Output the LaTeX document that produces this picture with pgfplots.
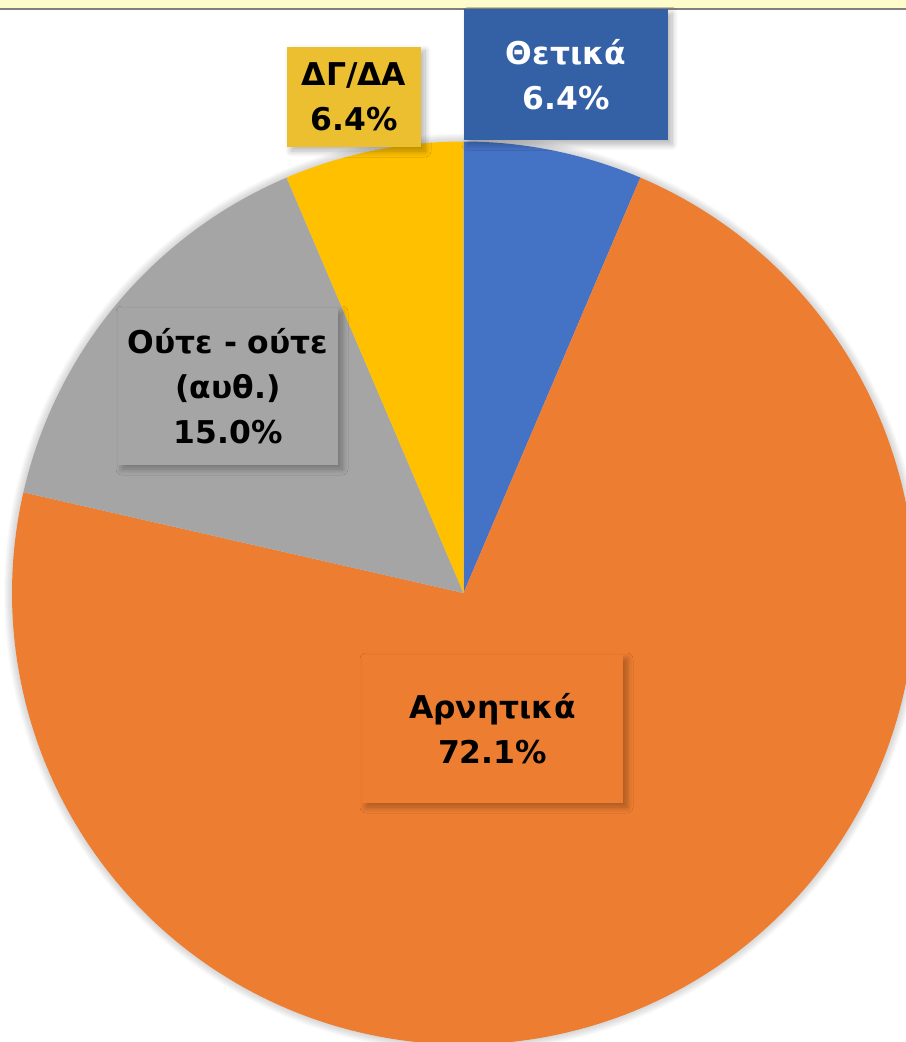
\documentclass[border=0pt]{standalone}
\usepackage{pgfplots}
\pgfplotsset{compat=1.18}
\usepackage{fontspec}
\setmainfont{DejaVu Sans}
\usetikzlibrary{shadows,shadows.blur}
\definecolor{cBlue}{HTML}{4472C4}
\definecolor{cOrange}{HTML}{ED7D31}
\definecolor{cGray}{HTML}{A5A5A5}
\definecolor{cYellow}{HTML}{FFC000}
\definecolor{bBlue}{HTML}{3461A5}
\definecolor{bYellow}{HTML}{ECBF31}
\definecolor{topStrip}{HTML}{FFFCCC}
\tikzset{lbl/.style={font=\fontsize{31.5}{45}\selectfont\bfseries, align=center, inner sep=0pt,
  blur shadow={shadow xshift=4bp, shadow yshift=-4bp, shadow blur steps=10, shadow blur radius=6bp, shadow opacity=30}}}
% values (percent)
\def\vPos{6.4}
\def\vNeg{72.1}
\def\vNeu{15.0}
\def\vDk{6.4}
\pgfmathsetmacro{\tot}{\vPos+\vNeg+\vNeu+\vDk}
\pgfmathsetmacro{\aA}{90}
\pgfmathsetmacro{\aB}{\aA-\vPos/\tot*360}
\pgfmathsetmacro{\aC}{\aB-\vNeg/\tot*360}
\pgfmathsetmacro{\aD}{\aC-\vNeu/\tot*360}
\pgfmathsetmacro{\aE}{\aD-\vDk/\tot*360}
\def\cx{463.5}
\def\cy{593}
\def\R{451.5}
\begin{document}
\begin{tikzpicture}
\begin{axis}[
  scale only axis, width=906bp, height=1042bp,
  xmin=0, xmax=906, ymin=0, ymax=1042, y dir=reverse,
  hide axis, clip=true,
]
% top strip
\addplot[fill=topStrip, draw=none] coordinates {(0,0) (906,0) (906,8) (0,8)} -- cycle;
\addplot[draw=black!50, line width=2.5bp] coordinates {(0,8.8) (906,8.8)};
% glow
\foreach \k in {1,...,8}{
  \edef\tmp{\noexpand\fill[black, opacity=0.018] (axis cs:\cx,\cy) circle[radius=\R bp + \k bp];}
  \tmp
}
% slices
\addplot[fill=cBlue, draw=none, domain=\aB:\aA, samples=60, variable=\t]
  ({\cx+\R*cos(\t)}, {\cy-\R*sin(\t)}) -- (axis cs:\cx,\cy) -- cycle;
\addplot[fill=cOrange, draw=none, domain=\aC:\aB, samples=300, variable=\t]
  ({\cx+\R*cos(\t)}, {\cy-\R*sin(\t)}) -- (axis cs:\cx,\cy) -- cycle;
\addplot[fill=cGray, draw=none, domain=\aD:\aC, samples=80, variable=\t]
  ({\cx+\R*cos(\t)}, {\cy-\R*sin(\t)}) -- (axis cs:\cx,\cy) -- cycle;
\addplot[fill=cYellow, draw=none, domain=\aE:\aD, samples=60, variable=\t]
  ({\cx+\R*cos(\t)}, {\cy-\R*sin(\t)}) -- (axis cs:\cx,\cy) -- cycle;
% labels
\node[lbl, fill=bBlue, text=white, minimum width=204bp, minimum height=131bp]
  at (axis cs:566,75) {Θετικά\\6.4\%};
\node[lbl, fill=bYellow, text=black, minimum width=134bp, minimum height=100bp]
  at (axis cs:354,97) {ΔΓ/ΔΑ\\6.4\%};
\node[lbl, fill=cGray, text=black, minimum width=220bp, minimum height=157bp]
  at (axis cs:228,386.5) {Ούτε - ούτε\\(αυθ.)\\15.0\%};
\node[lbl, fill=cOrange, text=black, minimum width=261bp, minimum height=148bp]
  at (axis cs:492.5,729) {Αρνητικά\\72.1\%};
\end{axis}
\pgfresetboundingbox
\useasboundingbox (0,0) rectangle (906bp,1042bp);
\end{tikzpicture}
\end{document}
